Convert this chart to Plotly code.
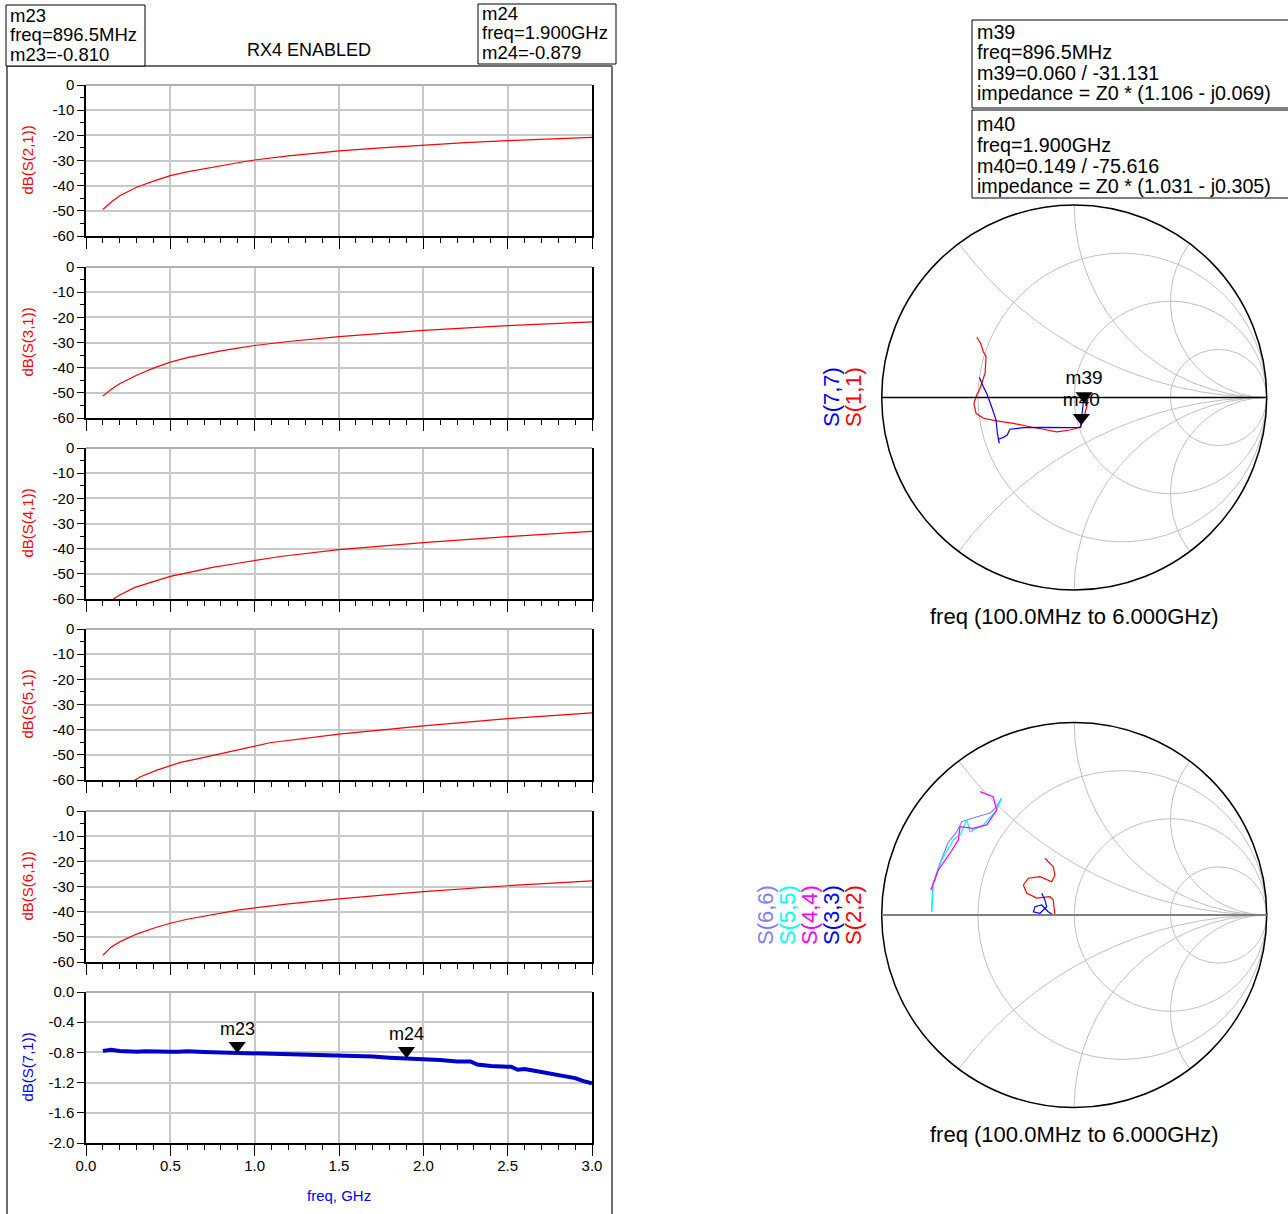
import numpy as np
import plotly.graph_objects as go

W, H = 1288, 1214

# ---------------- data ----------------
f_s21 = [0.10, 0.15, 0.20, 0.25, 0.30, 0.40, 0.50, 0.60, 0.70, 0.80, 0.90, 1.00, 1.20, 1.40, 1.50, 1.75, 2.00, 2.25, 2.50, 2.75, 3.00]
s21_db = [-49.5, -46.5, -44.0, -42.3, -40.6, -38.2, -36.0, -34.5, -33.2, -32.0, -30.9, -29.8, -28.2, -26.9, -26.2, -25.0, -23.9, -22.9, -22.1, -21.4, -20.8]

f_s31 = [0.10, 0.15, 0.20, 0.25, 0.30, 0.40, 0.50, 0.60, 0.70, 0.80, 0.90, 1.00, 1.20, 1.50, 2.00, 2.50, 3.00]
s31_db = [-51.3, -48.6, -46.4, -44.6, -43.0, -40.2, -37.8, -36.0, -34.6, -33.3, -32.2, -31.2, -29.6, -27.7, -25.2, -23.3, -21.8]

f_s41 = [0.162, 0.20, 0.29, 0.36, 0.44, 0.50, 0.62, 0.75, 0.90, 1.00, 1.15, 1.50, 2.00, 2.50, 3.00]
s41_db = [-60.0, -58.4, -55.4, -54.0, -52.4, -51.0, -49.3, -47.4, -45.8, -44.7, -43.1, -40.4, -37.6, -35.2, -33.1]

f_s51 = [0.29, 0.32, 0.42, 0.50, 0.56, 0.68, 0.79, 0.89, 1.00, 1.09, 1.50, 2.00, 2.50, 3.00]
s51_db = [-60.0, -58.8, -56.1, -54.2, -53.0, -51.3, -49.6, -48.2, -46.6, -45.2, -41.8, -38.5, -35.6, -33.3]

f_s61 = [0.10, 0.15, 0.20, 0.25, 0.30, 0.40, 0.50, 0.60, 0.70, 0.80, 0.90, 1.00, 1.20, 1.50, 2.00, 2.50, 3.00]
s61_db = [-57.3, -54.0, -52.0, -50.3, -48.9, -46.6, -44.6, -43.0, -41.7, -40.5, -39.4, -38.5, -36.9, -34.9, -32.0, -29.7, -27.8]

f_s71 = [0.10, 0.13, 0.15, 0.20, 0.25, 0.30, 0.35, 0.40, 0.50, 0.55, 0.60, 0.70, 0.80, 0.8965, 1.00, 1.10, 1.20, 1.30,
         1.40, 1.50, 1.60, 1.70, 1.80, 1.90, 1.95, 2.00, 2.10, 2.20, 2.25, 2.28, 2.32, 2.40, 2.50, 2.52, 2.56, 2.60,
         2.65, 2.70, 2.75, 2.80, 2.85, 2.90, 2.95, 3.00]
s71_db = [-0.78, -0.77, -0.765, -0.78, -0.79, -0.79, -0.785, -0.79, -0.79, -0.79, -0.785, -0.795, -0.80, -0.81, -0.81,
          -0.815, -0.82, -0.825, -0.83, -0.84, -0.85, -0.855, -0.87, -0.879, -0.875, -0.89, -0.90, -0.92, -0.915,
          -0.92, -0.96, -0.98, -0.99, -0.99, -1.03, -1.02, -1.04, -1.06, -1.075, -1.10, -1.12, -1.14, -1.18, -1.21]

# markers on dB(S(7,1))
mk_names = ["m23", "m24"]
mk_freq = [0.8965, 1.900]
mk_db = [-0.810, -0.879]

s11_re = [0.073, 0.065, 0.047, 0.030, -0.022, -0.091, -0.161, -0.230, -0.316, -0.403, -0.472, -0.510, -0.521, -0.510, -0.489, -0.463, -0.458, -0.472, -0.486, -0.506]
s11_im = [0.004, -0.048, -0.117, -0.155, -0.169, -0.178, -0.165, -0.152, -0.134, -0.121, -0.108, -0.082, -0.030, 0.004, 0.048, 0.126, 0.212, 0.238, 0.282, 0.313]
s77_re = [0.047, 0.041, 0.034, -0.022, -0.161, -0.264, -0.334, -0.348, -0.368, -0.394, -0.389, -0.399, -0.406, -0.429, -0.455, -0.472, -0.493]
s77_im = [-0.030, -0.082, -0.155, -0.157, -0.155, -0.157, -0.165, -0.195, -0.207, -0.217, -0.238, -0.186, -0.117, -0.048, 0.022, 0.056, 0.105]

s66_re = [-0.740, -0.735, -0.697, -0.656, -0.610, -0.584, -0.526, -0.437, -0.403, -0.377]
s66_im = [0.017, 0.156, 0.270, 0.374, 0.433, 0.485, 0.504, 0.530, 0.563, 0.608]
s55_re = [-0.740, -0.732, -0.688, -0.628, -0.593, -0.558, -0.541, -0.472, -0.403, -0.377]
s55_im = [0.017, 0.156, 0.286, 0.390, 0.416, 0.494, 0.433, 0.468, 0.545, 0.606]
s44_re = [-0.745, -0.706, -0.645, -0.602, -0.593, -0.526, -0.455, -0.403, -0.421, -0.489]
s44_im = [0.130, 0.234, 0.321, 0.390, 0.459, 0.450, 0.468, 0.545, 0.615, 0.641]
s22_re = [-0.100, -0.109, -0.126, -0.195, -0.247, -0.264, -0.238, -0.178, -0.117, -0.100, -0.109, -0.152]
s22_im = [0.000, 0.078, 0.095, 0.088, 0.114, 0.156, 0.191, 0.199, 0.173, 0.208, 0.251, 0.295]
s33_re = [-0.169, -0.152, -0.143, -0.178, -0.212, -0.204, -0.169, -0.135, -0.109]
s33_im = [0.113, 0.078, 0.043, 0.009, 0.017, 0.043, 0.052, 0.017, 0.000]

# Smith markers: magnitude / angle (deg)
sm_names = ["m39", "m40"]
sm_mag = [0.060, 0.149]
sm_ang = [-31.131, -75.616]

db_tickvals = [0, -10, -20, -30, -40, -50, -60]
db_ticktext = ["0", "-10", "-20", "-30", "-40", "-50", "-60"]
s71_tickvals = [0.0, -0.4, -0.8, -1.2, -1.6, -2.0]
s71_ticktext = ["0.0", "-0.4", "-0.8", "-1.2", "-1.6", "-2.0"]
f_tickvals = [0.0, 0.5, 1.0, 1.5, 2.0, 2.5, 3.0]
f_ticktext = ["0.0", "0.5", "1.0", "1.5", "2.0", "2.5", "3.0"]

FONT = "Liberation Sans, Arial, sans-serif"


def px(x):
    return x / W


def py(y):
    return 1 - y / H


def to_z(re, im):
    g = np.array(re) + 1j * np.array(im)
    z = (1 + g) / (1 - g)
    return z.real, z.imag


fig = go.Figure()
layout = dict(width=W, height=H, autosize=False,
              margin=dict(l=0, r=0, t=0, b=0, pad=0, autoexpand=False), paper_bgcolor="white",
              plot_bgcolor="white", showlegend=False, hovermode=False, font=dict(family=FONT, color="black"))

plots = [
    ("dB(S(2,1))", f_s21, s21_db, "#ff0000", 1.2, 85, 236, "red"),
    ("dB(S(3,1))", f_s31, s31_db, "#ff0000", 1.2, 267, 418, "red"),
    ("dB(S(4,1))", f_s41, s41_db, "#ff0000", 1.2, 448, 599, "red"),
    ("dB(S(5,1))", f_s51, s51_db, "#ff0000", 1.2, 629, 780, "red"),
    ("dB(S(6,1))", f_s61, s61_db, "#ff0000", 1.2, 811, 962, "red"),
    ("dB(S(7,1))", f_s71, s71_db, "#0000c8", 4.0, 992, 1143, "#0000ff"),
]

annotations = []
shapes = []
minor_x = [round(v, 1) for v in np.arange(0.1, 3.0, 0.1) if round(v * 10) % 5 != 0]


def ann(x, y, text, size, color="black", angle=0, xanchor="center", yanchor="middle"):
    return dict(x=px(x), y=py(y), xref="paper", yref="paper", text=text, textangle=angle, showarrow=False,
                xanchor=xanchor, yanchor=yanchor, borderpad=0, font=dict(size=size, color=color, family=FONT))


for i, (name, fx, fy, col, lw, top, bot, labcol) in enumerate(plots, start=1):
    sfx = "" if i == 1 else str(i)
    xa, ya = "x" + sfx, "y" + sfx
    last = i == len(plots)
    fig.add_trace(go.Scatter(x=fx, y=fy, xaxis=xa, yaxis=ya, mode="lines",
                             line=dict(color=col, width=lw), hoverinfo="skip"))
    layout["xaxis" + sfx] = dict(
        domain=[px(86), px(592)], anchor=ya, range=[0, 3], showline=True, linecolor="black", linewidth=1.5,
        tickmode="array", tickvals=f_tickvals, ticktext=f_ticktext, showticklabels=last, automargin=False,
        ticks="outside", ticklen=11, tickwidth=1, tickcolor="black", ticklabelstandoff=-3,
        tickfont=dict(size=15, color="black", family=FONT),
        showgrid=True, gridcolor="#c8c8c8", gridwidth=1.5, zeroline=False,
        minor=dict(tickmode="array", tickvals=minor_x, ticks="outside", ticklen=5, tickwidth=1,
                   tickcolor="black", showgrid=False),
        fixedrange=True,
    )
    if last:
        yv, yt, yr, ymin = s71_tickvals, s71_ticktext, [-2, 0], []
    else:
        yv, yt, yr, ymin = db_tickvals, db_ticktext, [-60, 0], [-5, -15, -25, -35, -45, -55]
    layout["yaxis" + sfx] = dict(
        domain=[py(bot), py(top)], anchor=xa, range=yr, showline=True, mirror=True, linecolor="black",
        linewidth=1.5, tickmode="array", tickvals=yv, ticktext=yt, ticks="outside", ticklen=7, automargin=False,
        tickwidth=1, tickcolor="black", tickfont=dict(size=15, color="black", family=FONT),
        showgrid=True, gridcolor="#c8c8c8", gridwidth=1.5, zeroline=True, zerolinecolor="#b0b0b0",
        zerolinewidth=1.5,
        minor=dict(tickmode="array", tickvals=ymin, ticks="outside", ticklen=4, tickwidth=1,
                   tickcolor="black", showgrid=False),
        fixedrange=True,
    )
    annotations.append(ann(27, (top + bot) / 2, name, 15, labcol, angle=-90))

# markers on the dB(S(7,1)) plot
fig.add_trace(go.Scatter(x=mk_freq, y=mk_db, xaxis="x6", yaxis="y6", mode="markers",
                         marker=dict(symbol="triangle-up", angle=180, standoff=7.5, size=15, color="black"),
                         hoverinfo="skip"))
for n, fx, fy in zip(mk_names, mk_freq, mk_db):
    annotations.append(dict(x=fx, y=fy, xref="x6", yref="y6", text=n, showarrow=False, xanchor="center",
                            yanchor="bottom", yshift=12, font=dict(size=18, color="black", family=FONT)))

annotations.append(ann(339, 1195, "freq, GHz", 15, "#0000ff"))

# ---------------- Smith charts ----------------
smith_axes = dict(
    realaxis=dict(tickvals=[1 / 3, 1, 3], showticklabels=False, ticks="", gridcolor="#c0c0c0", gridwidth=1,
                  showline=True, linecolor="black", linewidth=1.5),
    imaginaryaxis=dict(tickvals=[-2, -1, -0.5, 0.5, 1, 2], showticklabels=False, ticks="", gridcolor="#c0c0c0",
                       gridwidth=1, showline=True, linecolor="black", linewidth=1.5),
)
cx, r = 1074.2, 192.5
layout["smith"] = dict(domain=dict(x=[px(cx - r), px(cx + r)], y=[py(397.5 + r), py(397.5 - r)]), bgcolor="white",
                       **smith_axes)
sa2 = {k: dict(v) for k, v in smith_axes.items()}
sa2["realaxis"]["linecolor"] = "#808080"
sa2["realaxis"]["linewidth"] = 2
layout["smith2"] = dict(domain=dict(x=[px(cx - r), px(cx + r)], y=[py(915 + r), py(915 - r)]), bgcolor="white",
                        **sa2)

for re_, im_, col, sp in [(s11_re, s11_im, "#ff0000", "smith"), (s77_re, s77_im, "#0000ff", "smith"),
                          (s66_re, s66_im, "#8080ff", "smith2"), (s55_re, s55_im, "#00ffff", "smith2"),
                          (s44_re, s44_im, "#ff00ff", "smith2"), (s22_re, s22_im, "#ff0000", "smith2"),
                          (s33_re, s33_im, "#0000ff", "smith2")]:
    zr, zi = to_z(re_, im_)
    fig.add_trace(go.Scattersmith(real=zr, imag=zi, subplot=sp, mode="lines", line=dict(color=col, width=1.2),
                                  hoverinfo="skip"))

g_re = [m * np.cos(np.radians(a)) for m, a in zip(sm_mag, sm_ang)]
g_im = [m * np.sin(np.radians(a)) for m, a in zip(sm_mag, sm_ang)]
zr, zi = to_z(g_re, g_im)
fig.add_trace(go.Scattersmith(real=zr, imag=zi, subplot="smith", mode="markers",
                              marker=dict(symbol="triangle-up", angle=180, standoff=7.5, size=15, color="black"),
                              hoverinfo="skip"))
fig.add_trace(go.Scattersmith(real=zr, imag=zi, subplot="smith", mode="markers+text", text=sm_names,
                              textposition="top center", marker=dict(size=22, opacity=0),
                              textfont=dict(size=19, color="black", family=FONT), hoverinfo="skip"))

# smith legends (rotated) and captions
for txt, x, col, yc in [("S(7,7)", 831, "#0000ff", 397), ("S(1,1)", 853, "#ff0000", 397),
                        ("S(6,6)", 765, "#8080ff", 915), ("S(5,5)", 787, "#00ffff", 915),
                        ("S(4,4)", 809, "#ff00ff", 915), ("S(3,3)", 831, "#0000ff", 915),
                        ("S(2,2)", 853, "#ff0000", 915)]:
    annotations.append(ann(x, yc, txt, 22, col, angle=-90))
for yc in [616, 1134]:
    annotations.append(ann(1074, yc, "freq (100.0MHz to 6.000GHz)", 22))


# ---------------- frames and marker readout boxes ----------------
def pline(x0, y0, x1, y1, color="#6e6e6e", width=2):
    return dict(type="line", xref="paper", yref="paper", x0=px(x0), y0=py(y0), x1=px(x1), y1=py(y1),
                line=dict(color=color, width=width))


shapes += [pline(7, 66, 7, 1214), pline(612, 66, 612, 1214), pline(7, 66, 612, 66)]
for (x0, y0, x1, y1) in [(6, 5, 145, 66), (478, 4, 616, 64), (972, 20, 1300, 108), (972, 110, 1300, 198)]:
    shapes.append(dict(type="rect", xref="paper", yref="paper", x0=px(x0), y0=py(y0), x1=px(x1), y1=py(y1),
                       line=dict(color="black", width=1), fillcolor="white", layer="above"))

box_text = [
    (9, [(16, "m23"), (35, "freq=896.5MHz"), (54, "m23=-0.810")], 18.5),
    (481, [(13.5, "m24"), (33, "freq=1.900GHz"), (52.5, "m24=-0.879")], 18.5),
    (976, [(32, "m39"), (52, "freq=896.5MHz"), (73, "m39=0.060 / -31.131"),
           (93, "impedance = Z0 * (1.106 - j0.069)")], 19.7),
    (976, [(124, "m40"), (145, "freq=1.900GHz"), (166, "m40=0.149 / -75.616"),
           (186, "impedance = Z0 * (1.031 - j0.305)")], 19.7),
]
for x0, lines, fs in box_text:
    for yc, t in lines:
        annotations.append(ann(x0, yc, t, fs, xanchor="left"))
annotations.append(ann(309, 50, "RX4 ENABLED", 18))

layout["annotations"] = annotations
layout["shapes"] = shapes
fig.update_layout(**layout)
fig.write_html("out.html", config={"displayModeBar": False},
               post_script="document.body.style.margin='0px';document.body.style.padding='0px';")
